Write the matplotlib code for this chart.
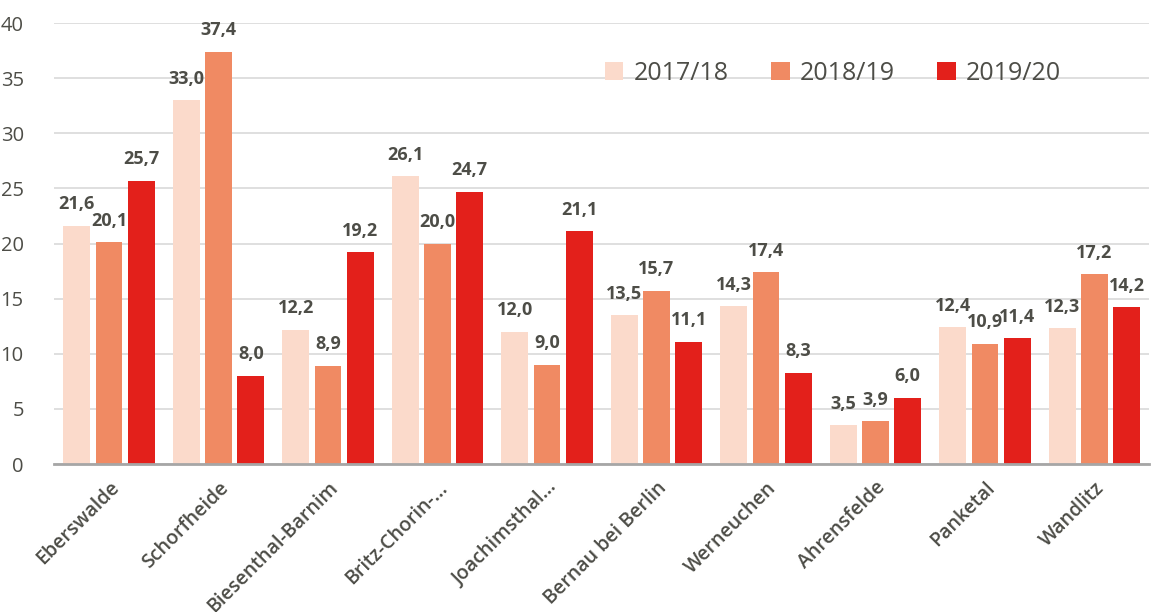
import numpy as np
import matplotlib
matplotlib.use("Agg")
from matplotlib import pyplot as plt

categories = ["Eberswalde", "Schorfheide", "Biesenthal-Barnim", "Britz-Chorin-...",
              "Joachimsthal...", "Bernau bei Berlin", "Werneuchen", "Ahrensfelde",
              "Panketal", "Wandlitz"]
series_names = ["2017/18", "2018/19", "2019/20"]
vals_1718 = [21.6, 33.0, 12.2, 26.1, 12.0, 13.5, 14.3, 3.5, 12.4, 12.3]
vals_1819 = [20.1, 37.4, 8.9, 20.0, 9.0, 15.7, 17.4, 3.9, 10.9, 17.2]
vals_1920 = [25.7, 8.0, 19.2, 24.7, 21.1, 11.1, 8.3, 6.0, 11.4, 14.2]
yticks = [0, 5, 10, 15, 20, 25, 30, 35, 40]

colors = ["#FBDACB", "#F08A63", "#E3201B"]
text_color = "#4d4d47"

plt.rcParams["font.family"] = ["Open Sans", "DejaVu Sans"]

fig = plt.figure(figsize=(11.58, 6.12), dpi=100)
ax = fig.add_axes([0.0469, 0.2418, 0.9455, 0.7206])

x = np.arange(len(categories))
width = 0.245
offset = 0.295
for i, (name, vals) in enumerate(zip(series_names, [vals_1718, vals_1819, vals_1920])):
    bars = ax.bar(x + (i - 1) * offset, vals, width, color=colors[i], label=name, zorder=3)
    for b, v in zip(bars, vals):
        ax.annotate(f"{v:.1f}".replace(".", ","),
                    (b.get_x() + b.get_width() / 2, v),
                    xytext=(0, 9), textcoords="offset points",
                    ha="center", va="bottom", fontsize=13, fontweight="bold",
                    color=text_color)

ax.set_xlim(-0.5, len(categories) - 0.5)
ax.set_ylim(0, 40)
ax.set_yticks(yticks)
ax.set_yticklabels([str(t) for t in yticks], fontsize=14.5, color=text_color)
ax.yaxis.grid(True, color="#d9d9d9", linewidth=1.2, zorder=0)
ax.set_axisbelow(True)

ax.set_xticks(x)
ax.set_xticklabels(categories, rotation=45, ha="right", rotation_mode="anchor",
                   fontsize=14, fontweight="semibold", color=text_color)
ax.tick_params(axis="both", length=0)
ax.tick_params(axis="y", pad=22)
ax.tick_params(axis="x", pad=10)

for s in ["top", "right", "left"]:
    ax.spines[s].set_visible(False)
ax.spines["bottom"].set_color("#a6a6a6")
ax.spines["bottom"].set_linewidth(2)
ax.spines["bottom"].set_zorder(4)

ax.legend(loc="upper left", bbox_to_anchor=(0.482, 0.965), ncol=3, frameon=False,
          fontsize=18, handlelength=0.75, handleheight=0.75, handletextpad=0.4,
          columnspacing=1.7, labelcolor=text_color)

fig.savefig("out.png", dpi=100)
